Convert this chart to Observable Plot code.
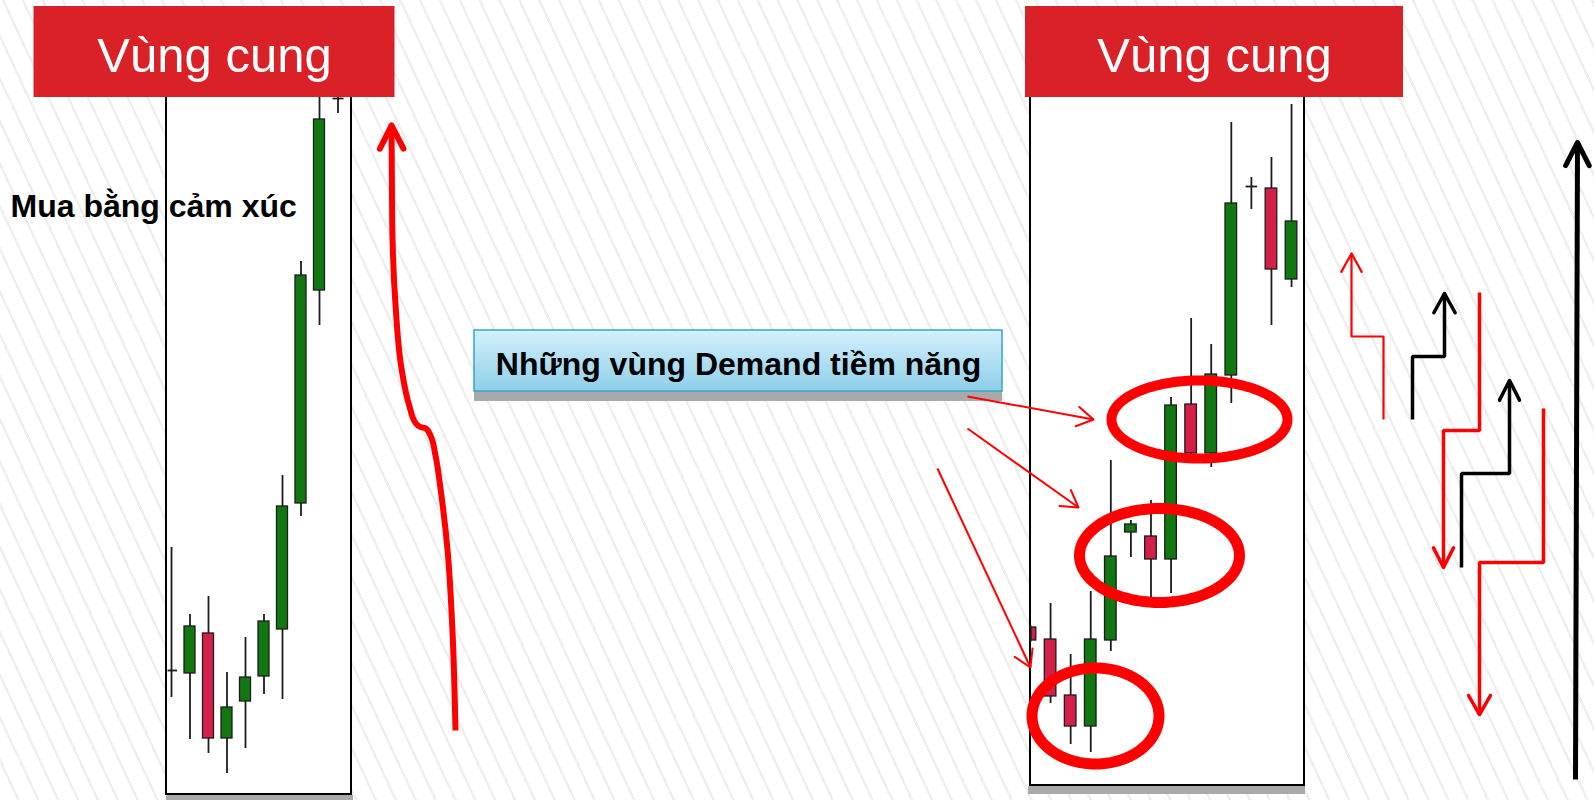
<!DOCTYPE html>
<html>
<head>
<meta charset="utf-8">
<script src="https://cdn.jsdelivr.net/npm/d3@7"></script>
<script src="https://cdn.jsdelivr.net/npm/@observablehq/plot@0.6"></script>
<style>
  html, body { margin: 0; padding: 0; }
  body {
    width: 1594px; height: 800px; overflow: hidden;
    background-color: #fff;
    background-image: repeating-linear-gradient(65deg, #ffffff 0px, #ffffff 15.5px, #efefef 15.5px, #efefef 18px);
  }
  #chart svg { display: block; }
</style>
</head>
<body>
<div id="chart"></div>
<script>
// ---------------- DATA (price units) ----------------
// Left panel: emotional buying run
const leftOpen  = [130, 127, 167,  62,  99, 124, 171, 297, 510, 702];
const leftHigh  = [253, 186, 204, 128, 163, 186, 325, 539, 715, 712];
const leftLow   = [103,  61,  47,  27,  52, 106, 101, 284, 475, 687];
const leftClose = [130, 174,  62,  93, 123, 179, 294, 525, 681, 702];

// Right panel: stair-step rally with demand bases
const rightOpen  = [173, 161, 105,  74, 160, 268, 264, 241, 396, 347, 425, 614, 612, 521];
const rightHigh  = [175, 197, 146, 209, 340, 280, 300, 403, 482, 456, 678, 623, 643, 696];
const rightLow   = [158,  97,  56,  48, 149, 243, 203, 207, 342, 333, 397, 591, 475, 513];
const rightClose = [160, 104,  74, 161, 244, 276, 241, 395, 347, 426, 597, 614, 531, 579];

const supplyLabel = "Vùng cung";
const emotionLabel = "Mua bằng cảm xúc";
const demandLabel = "Những vùng Demand tiềm năng";

// ---------------- LAYOUT ----------------
const W = 1594, H = 800;
const panels = [
  {x1: 166, x2: 351, y1: 6, y2: 710, start: 171, step: 18.5, hw: 5.5},
  {x1: 1030, x2: 1304, y1: 15, y2: 710, start: 1030, step: 20.08, hw: 5.8}
];
const shadows = [
  {x1: 166, x2: 353, y1: 0, y2: 5},
  {x1: 1028, x2: 1305, y1: 6, y2: 14},
  {x1: 474, x2: 1002, y1: 399, y2: 409}
];
const labelBoxes = [
  {x1: 33.5, x2: 394.5, y1: 703, y2: 794, cx: 214, base: 729},
  {x1: 1025, x2: 1403, y1: 703, y2: 794, cx: 1214, base: 729}
];
const demandBox = {x1: 474, x2: 1002, y1: 409, y2: 470, cx: 738, base: 426};

function buildCandles(o, h, l, c, p) {
  return o.map((v, i) => {
    const x = p.start + p.step * i;
    return {
      x, open: v, high: h[i], low: l[i], close: c[i],
      bx1: Math.max(x - p.hw, p.x1 + 1), bx2: x + p.hw,
      lo: Math.min(v, c[i]), hi: Math.max(v, c[i]),
      up: c[i] > v, doji: c[i] === v
    };
  });
}
const candles = [
  ...buildCandles(leftOpen, leftHigh, leftLow, leftClose, panels[0]),
  ...buildCandles(rightOpen, rightHigh, rightLow, rightClose, panels[1])
];

// Demand zone ellipses (center, radii, stroke)
const zones = [
  {id: "z1", cx: 1199, cy: 381, rx: 88, ry: 39, sw: 10},
  {id: "z2", cx: 1159, cy: 245, rx: 80, ry: 47, sw: 11},
  {id: "z3", cx: 1095, cy: 84.5, rx: 63.5, ry: 48, sw: 11}
];
const zonePts = zones.flatMap(z => d3.range(97).map(k => {
  const a = (2 * Math.PI * k) / 96;
  return {id: z.id, sw: z.sw, x: z.cx + z.rx * Math.cos(a), y: z.cy + z.ry * Math.sin(a)};
}));

// Arrows (paths + arrowheads)
const arrows = [
  {color: "#ff0000", w: 6, head: [26, 27], curve: "monotone-y",
   pts: [[455, 70], [452, 169], [447, 251], [440, 312], [435, 345], [430, 365], [425, 372.2],
         [420, 373.5], [415, 377.6], [409, 394], [401, 432], [395, 496], [391.7, 578], [391, 675]]},
  {color: "#ff0000", w: 2, head: [19, 31], pts: [[967, 404], [1093, 381]]},
  {color: "#ff0000", w: 2, head: [19, 31], pts: [[967, 372], [1078, 293]]},
  {color: "#ff0000", w: 2, head: [19, 31], pts: [[937, 332], [1030, 133]]},
  {color: "#ff0000", w: 2.2, head: [21, 29], pts: [[1383, 381], [1383, 464], [1351, 464], [1351, 547]]},
  {color: "#000000", w: 3.5, head: [22, 29], pts: [[1412, 381], [1412, 444], [1444, 444], [1444, 507]]},
  {color: "#ff0000", w: 3.5, head: [22, 27], pts: [[1479, 508], [1479, 370], [1443, 370], [1443, 233]]},
  {color: "#000000", w: 3.5, head: [22, 27], pts: [[1461, 233], [1461, 327], [1509, 327], [1509, 420]]},
  {color: "#ff0000", w: 3.5, head: [22, 30], pts: [[1543, 392], [1543, 238], [1479, 238], [1479, 86]]},
  {color: "#000000", w: 5, head: [26, 27], pts: [[1575, 21], [1577, 658]]}
];
function headOf(pts, len, halfDeg) {
  const p = pts[pts.length - 2], q = pts[pts.length - 1];
  const ang = Math.atan2(q[1] - p[1], q[0] - p[0]);
  const a = halfDeg * Math.PI / 180;
  return [
    [q[0] - len * Math.cos(ang - a), q[1] - len * Math.sin(ang - a)],
    q,
    [q[0] - len * Math.cos(ang + a), q[1] - len * Math.sin(ang + a)]
  ];
}
const arrowMarks = arrows.flatMap(a => [
  Plot.line(a.pts, {x: d => d[0], y: d => d[1], stroke: a.color, strokeWidth: a.w,
    curve: a.curve || "linear", strokeLinejoin: "miter", strokeLinecap: "butt"}),
  Plot.line(headOf(a.pts, a.head[0], a.head[1]), {x: d => d[0], y: d => d[1], stroke: a.color,
    strokeWidth: a.w, strokeLinejoin: "round", strokeLinecap: "round"})
]);

const FONT = "'Liberation Sans', Arial, Helvetica, sans-serif";
const GREEN = "#117811", RED = "#d42048", INK = "#1c1c1c";

const plot = Plot.plot({
  width: W, height: H, margin: 0,
  x: {domain: [0, W], range: [0, W], axis: null},
  y: {domain: [0, H], range: [H, 0], axis: null},
  style: {background: "transparent", overflow: "visible"},
  marks: [
    // panel shadows and frames
    Plot.rect(shadows, {x1: "x1", x2: "x2", y1: "y1", y2: "y2", fill: "#a9a9a9"}),
    Plot.rect(panels, {x1: "x1", x2: "x2", y1: "y1", y2: "y2", fill: "white", stroke: "black", strokeWidth: 2}),
    // candles
    Plot.ruleX(candles, {x: "x", y1: "low", y2: "high", stroke: INK, strokeWidth: 1.8}),
    Plot.rect(candles.filter(d => !d.doji), {x1: "bx1", x2: "bx2", y1: "lo", y2: "hi",
      fill: d => d.up ? GREEN : RED, stroke: INK, strokeWidth: 1.3}),
    Plot.link(candles.filter(d => d.doji), {x1: "bx1", x2: "bx2", y1: "open", y2: "open", stroke: INK, strokeWidth: 1.8}),
    // demand zone ellipses
    zones.map(z => Plot.line(zonePts.filter(p => p.id === z.id), {x: "x", y: "y", curve: "linear-closed",
      stroke: "#ff0000", strokeWidth: z.sw})),
    // supply labels
    Plot.rect(labelBoxes, {x1: "x1", x2: "x2", y1: "y1", y2: "y2", fill: "#da2128"}),
    Plot.text(labelBoxes, {x: "cx", y: "base", text: () => supplyLabel, fill: "white", fontSize: 49,
      fontFamily: FONT, textAnchor: "middle", lineAnchor: "bottom"}),
    // emotion label
    Plot.text([emotionLabel], {x: () => 10, y: () => 584, text: d => d, fill: "black", fontSize: 32,
      fontWeight: "bold", fontFamily: FONT, textAnchor: "start", lineAnchor: "bottom"}),
    // demand label box
    Plot.rect([demandBox], {x1: "x1", x2: "x2", y1: "y1", y2: "y2", fill: "url(#demandGrad)", stroke: "#33a6c8", strokeWidth: 1.5}),
    Plot.text([demandBox], {x: "cx", y: "base", text: () => demandLabel, fill: "black", fontSize: 32,
      fontWeight: "bold", fontFamily: FONT, textAnchor: "middle", lineAnchor: "bottom"}),
    // arrows
    arrowMarks
  ]
});

const ns = "http://www.w3.org/2000/svg";
const defs = document.createElementNS(ns, "defs");
defs.innerHTML = '<linearGradient id="demandGrad" x1="0" y1="0" x2="0" y2="1">' +
  '<stop offset="0" stop-color="#d3f0fc"/><stop offset="1" stop-color="#8ecfe9"/></linearGradient>';
plot.insertBefore(defs, plot.firstChild);
document.getElementById("chart").appendChild(plot);
</script>
</body>
</html>
